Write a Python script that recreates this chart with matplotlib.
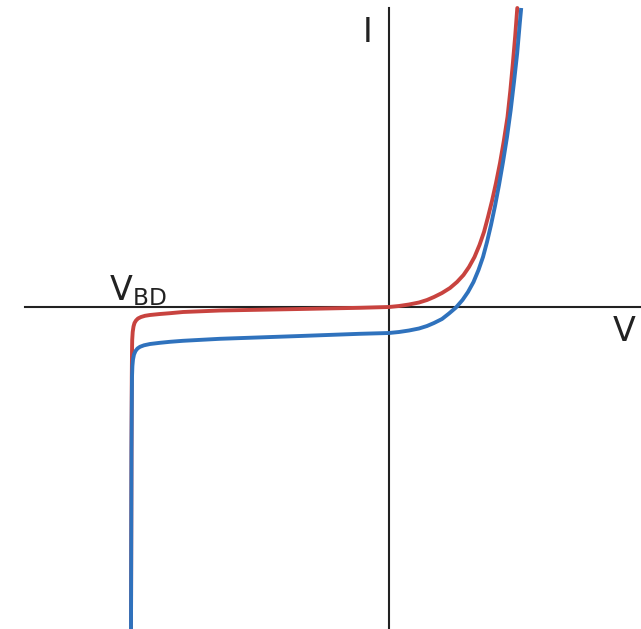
"""Sketch of a solar-cell I-V characteristic: dark curve and illuminated curve,
with reverse breakdown at V_BD."""

import matplotlib
matplotlib.use("Agg")
import matplotlib.pyplot as plt

# dark curve (arbitrary units)
dark_v = [-2.58, -2.575, -2.572, -2.57, -2.568, -2.563, -2.555, -2.545,
          -2.53, -2.51, -2.48, -2.44, -2.39, -2.29, -2.19, -2.06, -1.69,
          -0.89, -0.29, 0.0, 0.10, 0.20, 0.30, 0.38, 0.45, 0.53, 0.61, 0.68,
          0.745, 0.80, 0.855, 0.905, 0.95, 0.99, 1.03, 1.07, 1.11, 1.148,
          1.185, 1.213, 1.238, 1.262, 1.283]
dark_i = [-3.22, -1.43, -0.70, -0.45, -0.33, -0.25, -0.195, -0.16,
          -0.135, -0.115, -0.10, -0.088, -0.08, -0.07, -0.062, -0.05, -0.035,
          -0.02, -0.008, 0.0, 0.01, 0.025, 0.045, 0.07, 0.10, 0.14, 0.19,
          0.25, 0.32, 0.40, 0.50, 0.62, 0.75, 0.90, 1.06, 1.24, 1.44, 1.66,
          1.90, 2.16, 2.43, 2.71, 2.99]

# illuminated curve, shifted down by the photocurrent
light_v = [-2.58, -2.575, -2.572, -2.57, -2.566, -2.56, -2.55, -2.535,
           -2.515, -2.49, -2.45, -2.39, -2.29, -2.19, -2.06, -1.69, -0.89,
           -0.29, 0.0, 0.10, 0.20, 0.30, 0.38, 0.45, 0.53, 0.60, 0.67, 0.735,
           0.79, 0.845, 0.895, 0.94, 0.98, 1.02, 1.06, 1.10, 1.14, 1.18,
           1.217, 1.25, 1.282, 1.308, 1.322]
light_i = [-3.22, -1.43, -0.95, -0.70, -0.59, -0.525, -0.475, -0.44,
           -0.415, -0.398, -0.383, -0.37, -0.358, -0.348, -0.338, -0.318,
           -0.29, -0.268, -0.26, -0.25, -0.235, -0.215, -0.19, -0.16, -0.12,
           -0.065, -0.005, 0.07, 0.15, 0.25, 0.37, 0.50, 0.65, 0.82, 1.01,
           1.22, 1.45, 1.70, 1.97, 2.25, 2.54, 2.84, 2.99]

RED = "#c8433f"
BLUE = "#2f72bd"

fig = plt.figure(figsize=(6.41, 6.29), dpi=100)
ax = fig.add_axes([0, 0, 1, 1])
ax.set_xlim(-3.89, 2.52)
ax.set_ylim(-3.22, 3.07)
ax.axis("off")

# coordinate axes
ax.plot([-3.64, 2.52], [0, 0], color="#222222", lw=1.5, zorder=1)
ax.plot([0, 0], [-3.22, 2.99], color="#222222", lw=1.5, zorder=1)

ax.plot(dark_v, dark_i, color=RED, lw=2.8, solid_capstyle="round",
        solid_joinstyle="round", zorder=2)
ax.plot(light_v, light_i, color=BLUE, lw=2.8, solid_capstyle="butt",
        solid_joinstyle="round", zorder=3)

ax.text(-0.21, 2.74, "I", fontsize=24, color="#222222",
        ha="center", va="center")
ax.text(2.35, -0.25, "V", fontsize=24, color="#222222",
        ha="center", va="center")
ax.text(-2.80, 0.07, r"V$_{\rm BD}$", fontsize=24, color="#222222",
        ha="left", va="baseline")

fig.savefig("out.png", dpi=100)
